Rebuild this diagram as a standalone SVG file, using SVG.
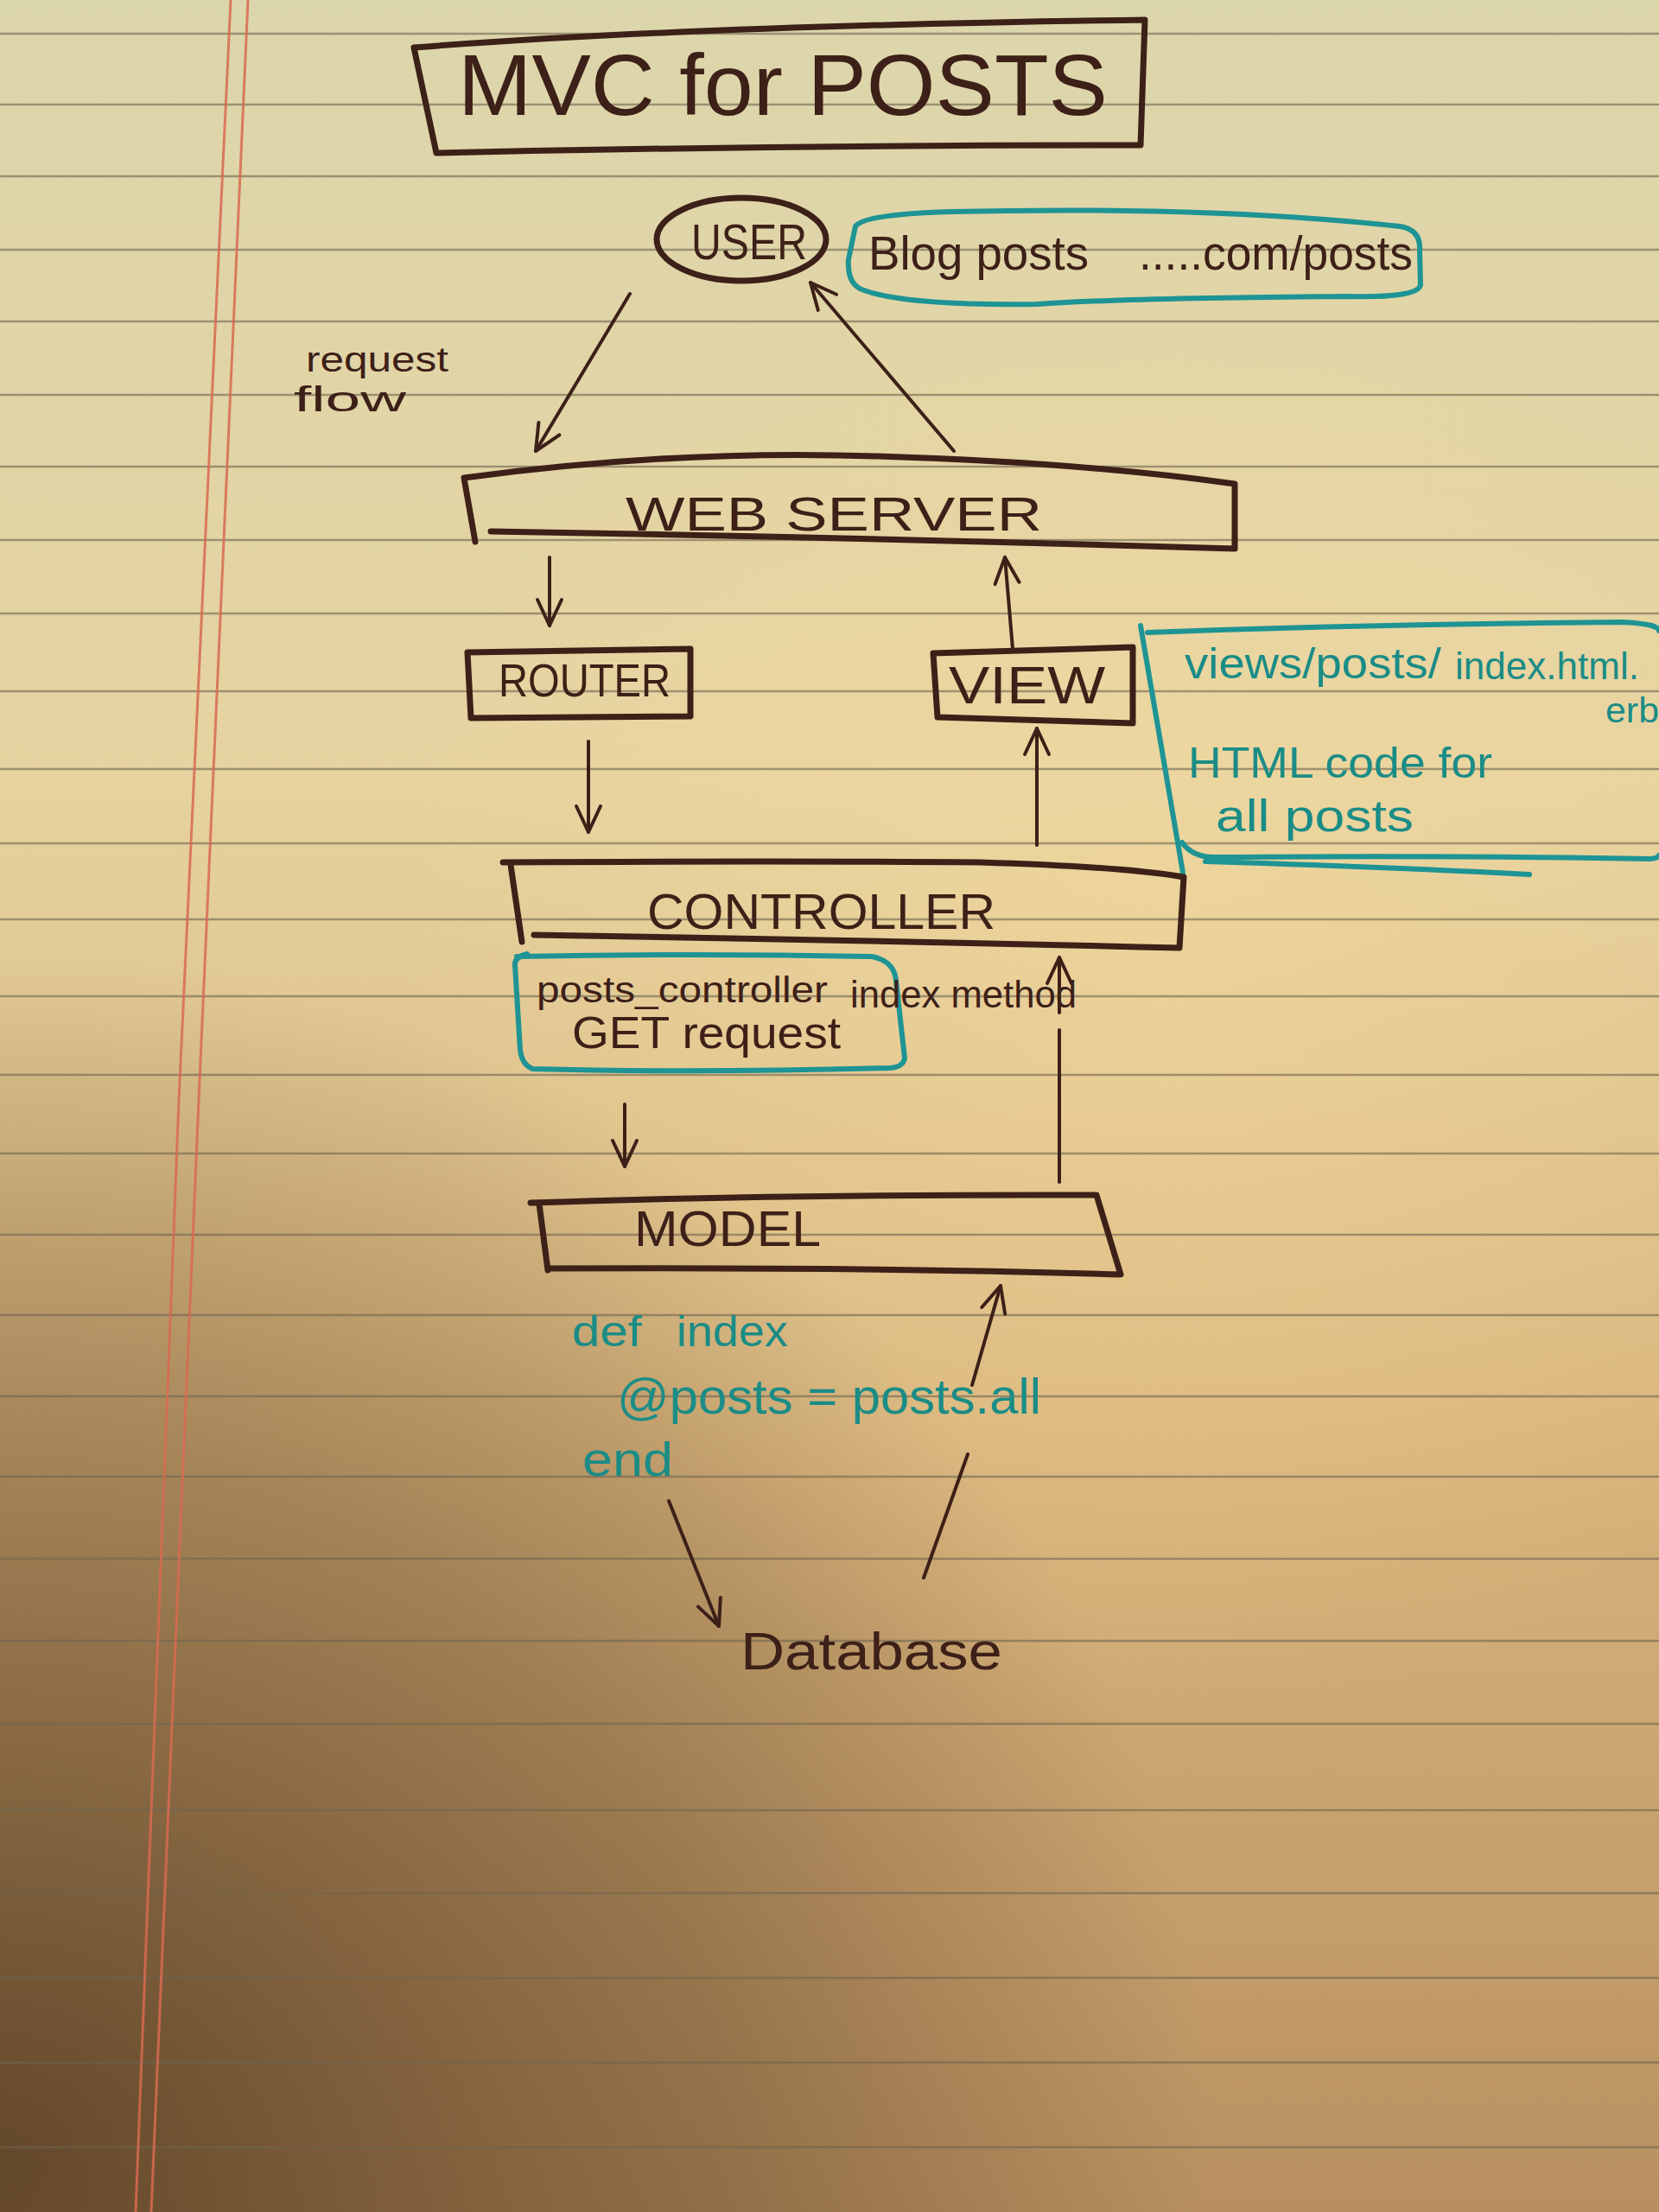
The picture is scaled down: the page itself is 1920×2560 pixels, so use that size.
<svg xmlns="http://www.w3.org/2000/svg" width="1920" height="2560" viewBox="0 0 1920 2560">
<defs>
<linearGradient id="paper" x1="0" y1="0" x2="0" y2="1">
<stop offset="0" stop-color="#dcd6ac"/>
<stop offset="0.35" stop-color="#e6d3a0"/>
<stop offset="0.65" stop-color="#d8b47c"/>
<stop offset="1" stop-color="#b89060"/>
</linearGradient>
<radialGradient id="shadow" cx="0" cy="2500" r="1400" gradientUnits="userSpaceOnUse">
<stop offset="0" stop-color="#3e2812" stop-opacity="0.7"/>
<stop offset="0.6" stop-color="#4a3018" stop-opacity="0.35"/>
<stop offset="1" stop-color="#4a3018" stop-opacity="0"/>
</radialGradient>
<radialGradient id="warm" cx="1350" cy="1100" r="900" gradientUnits="userSpaceOnUse">
<stop offset="0" stop-color="#f8dc9e" stop-opacity="0.45"/>
<stop offset="1" stop-color="#f8dc9e" stop-opacity="0"/>
</radialGradient>
<marker id="arr" viewBox="0 0 40 40" refX="36" refY="20" markerWidth="40" markerHeight="40" markerUnits="userSpaceOnUse" orient="auto">
<path d="M6,6 L36,20 L6,34" fill="none" stroke="#3d2018" stroke-width="4" stroke-linecap="round" stroke-linejoin="round"/>
</marker>
<style>
.rule{stroke:#6e6450;stroke-width:2.5;stroke-opacity:0.6;fill:none}
.margin{stroke:#d86a50;stroke-width:3;fill:none;stroke-opacity:0.85}
.box{fill:none;stroke:#3d2018;stroke-width:7;stroke-linejoin:round;stroke-linecap:round}
.tbox{fill:none;stroke:#1e9494;stroke-width:6;stroke-linejoin:round;stroke-linecap:round}
.conn{fill:none;stroke:#3d2018;stroke-width:4;stroke-linecap:round}
.ink{fill:#3d2018;font-family:'Liberation Sans','DejaVu Sans',sans-serif}
.teal{fill:#1b8c86;font-family:'Liberation Sans','DejaVu Sans',sans-serif}
</style>
</defs>
<g id="paper-bg">
<rect width="1920" height="2560" fill="url(#paper)"/>
<rect width="1920" height="2560" fill="url(#warm)"/>
<rect width="1920" height="2560" fill="url(#shadow)"/>
<path class="rule" d="M0,39 H1920 M0,121 H1920 M0,204 H1920 M0,289 H1920 M0,372 H1920 M0,457 H1920 M0,540 H1920 M0,625 H1920 M0,710 H1920 M0,800 H1920 M0,890 H1920 M0,976 H1920 M0,1064 H1920 M0,1153 H1920 M0,1244 H1920 M0,1335 H1920 M0,1429 H1920 M0,1522 H1920 M0,1616 H1920 M0,1709 H1920 M0,1804 H1920 M0,1899 H1920 M0,1995 H1920 M0,2095 H1920 M0,2191 H1920 M0,2289 H1920 M0,2387 H1920 M0,2485 H1920"/>
<path class="margin" d="M267,0 L207,1273 L157,2560"/>
<path class="margin" d="M287,0 L230,1273 L175,2560"/>
</g>
<g id="title">
<path class="box" d="M479,55 Q800,30 1325,23 L1320,168 Q900,168 505,177 Z"/>
<text class="ink" x="530" y="133" font-size="100" textLength="752" lengthAdjust="spacingAndGlyphs">MVC for POSTS</text>
</g>
<g id="user">
<ellipse class="box" cx="858" cy="277" rx="98" ry="48" stroke-width="5"/>
<text class="ink" x="800" y="300" font-size="58" textLength="134" lengthAdjust="spacingAndGlyphs">USER</text>
</g>
<g id="blog-note">
<path class="tbox" d="M990,262 Q1000,248 1100,245 Q1400,238 1620,262 Q1645,266 1643,290 L1644,330 Q1640,345 1560,343 Q1300,345 1200,352 Q1050,354 1000,336 Q980,330 982,300 Z"/>
<text class="ink" x="1005" y="312" font-size="56" textLength="255" lengthAdjust="spacingAndGlyphs">Blog posts</text>
<text class="ink" x="1318" y="312" font-size="56" textLength="317" lengthAdjust="spacingAndGlyphs">.....com/posts</text>
</g>
<g id="request-flow">
<text class="ink" x="354" y="430" font-size="40" textLength="165" lengthAdjust="spacingAndGlyphs">request</text>
<text class="ink" x="340" y="476" font-size="40" textLength="130" lengthAdjust="spacingAndGlyphs">flow</text>
</g>
<g id="web-server">
<path class="box" d="M537,553 Q780,520 1014,528 Q1250,535 1429,560 L1429,635 Q1000,622 568,615 M537,553 L550,627"/>
<text class="ink" x="724" y="614" font-size="56" textLength="482" lengthAdjust="spacingAndGlyphs">WEB SERVER</text>
</g>
<g id="router">
<path class="box" d="M541,755 L799,751 L799,829 L545,831 Z"/>
<text class="ink" x="577" y="806" font-size="53" textLength="199" lengthAdjust="spacingAndGlyphs">ROUTER</text>
</g>
<g id="view">
<path class="box" d="M1080,756 L1311,749 L1311,837 L1085,830 Z"/>
<text class="ink" x="1098" y="814" font-size="62" textLength="181" lengthAdjust="spacingAndGlyphs">VIEW</text>
</g>
<g id="view-note">
<path class="tbox" d="M1320,724 L1369,1010 M1328,732 Q1600,722 1877,720 Q1920,722 1920,730 M1368,975 Q1380,992 1405,992 Q1700,990 1910,994 Q1920,993 1920,990 M1395,997 Q1600,1003 1770,1012"/>
<text class="teal" x="1371" y="785" font-size="50" textLength="297" lengthAdjust="spacingAndGlyphs">views/posts/</text>
<text class="teal" x="1684" y="786" font-size="44" textLength="213" lengthAdjust="spacingAndGlyphs">index.html.</text>
<text class="teal" x="1858" y="836" font-size="40" textLength="62" lengthAdjust="spacingAndGlyphs">erb</text>
<text class="teal" x="1375" y="900" font-size="50" textLength="352" lengthAdjust="spacingAndGlyphs">HTML code for</text>
<text class="teal" x="1407" y="962" font-size="52" textLength="229" lengthAdjust="spacingAndGlyphs">all posts</text>
</g>
<g id="controller">
<path class="box" d="M582,998 Q900,996 1134,998 Q1300,1003 1370,1015 L1365,1097 Q1000,1088 618,1082 M591,1001 L604,1090"/>
<text class="ink" x="749" y="1075" font-size="58" textLength="403" lengthAdjust="spacingAndGlyphs">CONTROLLER</text>
</g>
<g id="controller-note">
<path class="tbox" d="M598,1107 Q800,1103 1009,1107 Q1035,1112 1037,1135 L1047,1225 Q1045,1235 1030,1236 Q800,1242 616,1237 Q604,1232 602,1215 L596,1117 Q595,1108 610,1104"/>
<text class="ink" x="621" y="1160" font-size="42" textLength="337" lengthAdjust="spacingAndGlyphs">posts_controller</text>
<text class="ink" x="984" y="1166" font-size="44" textLength="262" lengthAdjust="spacingAndGlyphs">index method</text>
<text class="ink" x="662" y="1213" font-size="52" textLength="311" lengthAdjust="spacingAndGlyphs">GET request</text>
</g>
<g id="model">
<path class="box" d="M614,1392 Q900,1382 1269,1383 L1297,1475 Q1000,1466 634,1468 M624,1393 L634,1470"/>
<text class="ink" x="734" y="1442" font-size="58" textLength="216" lengthAdjust="spacingAndGlyphs">MODEL</text>
</g>
<g id="model-code">
<text class="teal" x="662" y="1558" font-size="50" textLength="81" lengthAdjust="spacingAndGlyphs">def</text>
<text class="teal" x="783" y="1558" font-size="50" textLength="129" lengthAdjust="spacingAndGlyphs">index</text>
<text class="teal" x="714" y="1636" font-size="58" textLength="491" lengthAdjust="spacingAndGlyphs">@posts = posts.all</text>
<text class="teal" x="674" y="1708" font-size="55" textLength="105" lengthAdjust="spacingAndGlyphs">end</text>
</g>
<g id="database">
<text class="ink" x="857" y="1932" font-size="62" textLength="303" lengthAdjust="spacingAndGlyphs">Database</text>
</g>
<g id="connectors">
<path class="conn" marker-end="url(#arr)" d="M729,340 L620,522"/>
<path class="conn" marker-end="url(#arr)" d="M1104,522 L938,327"/>
<path class="conn" marker-end="url(#arr)" d="M636,645 L636,724"/>
<path class="conn" marker-end="url(#arr)" d="M1172,751 L1163,645"/>
<path class="conn" marker-end="url(#arr)" d="M681,858 L681,963"/>
<path class="conn" marker-end="url(#arr)" d="M1200,978 L1200,843"/>
<path class="conn" marker-end="url(#arr)" d="M723,1278 L723,1350"/>
<path class="conn" marker-end="url(#arr)" d="M1226,1368 L1226,1192 M1226,1172 L1226,1108"/>
<path class="conn" marker-end="url(#arr)" d="M774,1737 L832,1882"/>
<path class="conn" marker-end="url(#arr)" d="M1069,1826 L1120,1683 M1125,1603 L1158,1488"/>
</g>
</svg>
